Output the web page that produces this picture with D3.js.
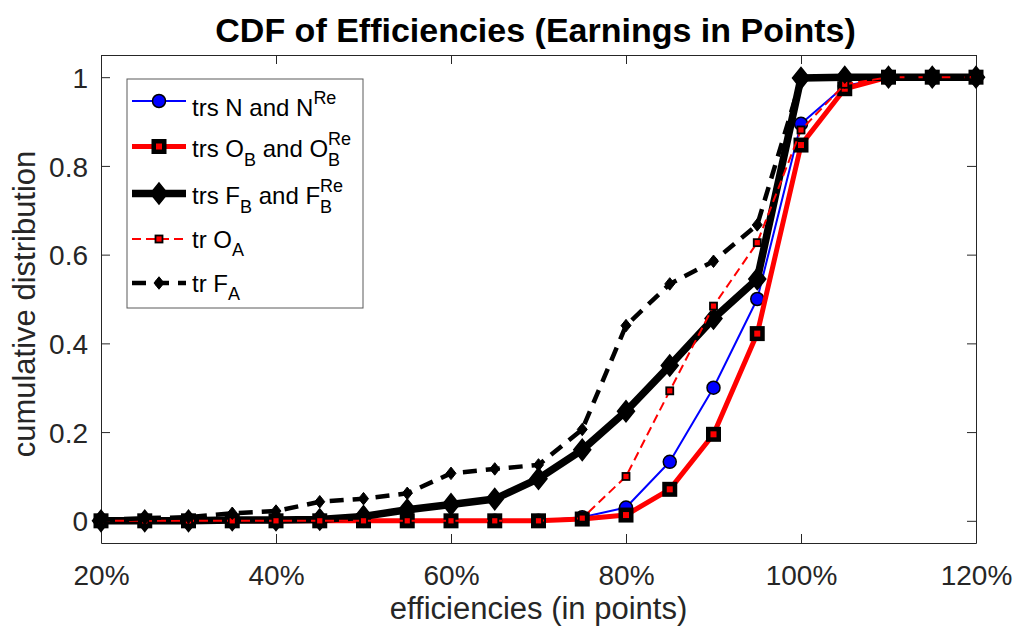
<!DOCTYPE html>
<html>
<head>
<meta charset="utf-8">
<script src="https://cdn.jsdelivr.net/npm/d3@7"></script>
<style>
  body { margin: 0; background: #fff; }
</style>
</head>
<body>
<div id="chart"></div>
<script>
// efficiency bins (percent of points)
const efficiencies = [20, 25, 30, 35, 40, 45, 50, 55, 60, 65, 70, 75, 80, 85, 90, 95, 100, 105, 110, 115, 120];

// cumulative distributions
const cdfN  = [0, 0, 0, 0, 0, 0, 0, 0, 0, 0, 0, 0.008, 0.03, 0.133, 0.30, 0.50, 0.895, 0.98, 1, 1, 1];
const cdfOB = [0, 0, 0, 0, 0, 0, 0, 0, 0, 0, 0, 0.004, 0.013, 0.071, 0.195, 0.422, 0.847, 0.974, 1, 1, 1];
const cdfFB = [0, 0, 0, 0.002, 0.002, 0.003, 0.01, 0.025, 0.037, 0.049, 0.095, 0.16, 0.247, 0.35, 0.456, 0.545, 0.998, 1, 1, 1, 1];
const cdfOA = [0, 0, 0, 0, 0, 0, 0, 0, 0, 0, 0, 0.006, 0.10, 0.293, 0.484, 0.627, 0.881, 0.984, 1, 1, 1];
const cdfFA = [0.002, 0.006, 0.008, 0.017, 0.022, 0.043, 0.05, 0.062, 0.107, 0.117, 0.126, 0.206, 0.44, 0.534, 0.585, 0.667, 0.995, 1, 1, 1, 1];

const legendLabels = ['trs N and N^{Re}', 'trs O_B and O_B^{Re}', 'trs F_B and F_B^{Re}', 'tr O_A', 'tr F_A'];

const xTicks = [20, 40, 60, 80, 100, 120];
const yTicks = [0, 0.2, 0.4, 0.6, 0.8, 1];

const titleText = 'CDF of Efficiencies (Earnings in Points)';
const xLabel = 'efficiencies (in points)';
const yLabel = 'cumulative distribution';

// line + marker styles, in drawing order
const styles = [
  { stroke: '#0000ff', width: 2,   dash: null,    marker: 'circle',  size: 6.5,  face: '#0000ff', edgeW: 1.5 },
  { stroke: '#ff0000', width: 5,   dash: null,    marker: 'square',  size: 10.5, face: '#ff0000', edgeW: 4.5 },
  { stroke: '#000000', width: 7.5, dash: null,    marker: 'diamond', size: 8.5,  face: '#000000', edgeW: 1.5 },
  { stroke: '#ff0000', width: 2,   dash: '9,5',   marker: 'square',  size: 7,    face: '#ff0000', edgeW: 1.8 },
  { stroke: '#000000', width: 4.5, dash: '14,9',  marker: 'diamond', size: 5,    face: '#000000', edgeW: 1 }
];
const seriesValues = [cdfN, cdfOB, cdfFB, cdfOA, cdfFA];

const font = "'Liberation Sans', Arial, Helvetica, sans-serif";
const W = 1019, H = 641;
const box = { left: 101, right: 976, top: 55, bottom: 543 };
const axisColor = '#262626';

const svg = d3.select('#chart').append('svg')
  .attr('width', W).attr('height', H)
  .style('font-family', font)
  .style('display', 'block');

svg.append('rect').attr('width', W).attr('height', H).attr('fill', '#fff');

const x = d3.scaleLinear().domain([20, 120]).range([box.left, box.right]);
const y = d3.scaleLinear().domain([-0.05, 1.05]).range([box.bottom, box.top]);

// --- axes (box on, ticks pointing inward) ---
function styleAxis(g) {
  g.select('.domain').attr('stroke', axisColor).attr('stroke-width', 1);
  g.selectAll('.tick line').attr('stroke', axisColor).attr('stroke-width', 1);
  g.selectAll('.tick text').attr('fill', axisColor).attr('font-size', '28px').attr('font-family', font);
}

svg.append('g')
  .attr('transform', `translate(0,${box.bottom})`)
  .call(d3.axisBottom(x).tickValues(xTicks).tickSizeInner(-9).tickSizeOuter(0)
    .tickPadding(22).tickFormat(d => d + '%'))
  .call(styleAxis);

svg.append('g')
  .attr('transform', `translate(0,${box.top})`)
  .call(d3.axisTop(x).tickValues(xTicks).tickSizeInner(-9).tickSizeOuter(0).tickFormat(''))
  .call(styleAxis);

svg.append('g')
  .attr('transform', `translate(${box.left},0)`)
  .call(d3.axisLeft(y).tickValues(yTicks).tickSizeInner(-9).tickSizeOuter(0)
    .tickPadding(13).tickFormat(d => String(+d.toFixed(1))))
  .call(styleAxis)
  .selectAll('.tick text').attr('dy', '0.36em');

svg.append('g')
  .attr('transform', `translate(${box.right},0)`)
  .call(d3.axisRight(y).tickValues(yTicks).tickSizeInner(-9).tickSizeOuter(0).tickFormat(''))
  .call(styleAxis);

// --- titles ---
svg.append('text')
  .attr('x', (box.left + box.right) / 2 - 3).attr('y', 42)
  .attr('text-anchor', 'middle')
  .attr('font-size', '34px').attr('font-weight', 'bold').attr('fill', '#000')
  .text(titleText);

svg.append('text')
  .attr('x', (box.left + box.right) / 2).attr('y', 619)
  .attr('text-anchor', 'middle')
  .attr('font-size', '31px').attr('fill', axisColor)
  .text(xLabel);

svg.append('text')
  .attr('transform', `translate(35,${(box.top + box.bottom) / 2 + 5}) rotate(-90)`)
  .attr('text-anchor', 'middle')
  .attr('font-size', '31px').attr('fill', axisColor)
  .text(yLabel);

// --- markers ---
function drawMarker(g, s, cx, cy) {
  if (s.marker === 'circle') {
    g.append('circle').attr('cx', cx).attr('cy', cy).attr('r', s.size)
      .attr('fill', s.face).attr('stroke', '#000').attr('stroke-width', s.edgeW);
  } else if (s.marker === 'square') {
    g.append('rect').attr('x', cx - s.size / 2).attr('y', cy - s.size / 2)
      .attr('width', s.size).attr('height', s.size)
      .attr('fill', s.face).attr('stroke', '#000').attr('stroke-width', s.edgeW);
  } else {
    const hw = s.size, hh = s.size * 1.25;
    g.append('path')
      .attr('d', `M${cx},${cy - hh}L${cx + hw},${cy}L${cx},${cy + hh}L${cx - hw},${cy}Z`)
      .attr('fill', s.face).attr('stroke', '#000').attr('stroke-width', s.edgeW);
  }
}

// --- series ---
const line = d3.line().x(d => x(d[0])).y(d => y(d[1]));

seriesValues.forEach((vals, i) => {
  const s = styles[i];
  const pts = efficiencies.map((e, j) => [e, vals[j]]);
  const g = svg.append('g');
  g.append('path')
    .attr('d', line(pts))
    .attr('fill', 'none')
    .attr('stroke', s.stroke)
    .attr('stroke-width', s.width)
    .attr('stroke-dasharray', s.dash)
    .attr('stroke-linejoin', 'round');
  pts.forEach(p => drawMarker(g, s, x(p[0]), y(p[1])));
});

// --- legend ---
function parseTex(str) {
  // returns chunks: {text} or {sub, sup}
  const out = [];
  let buf = '';
  let i = 0;
  const readArg = () => {
    if (str[i] === '{') {
      const j = str.indexOf('}', i);
      const a = str.slice(i + 1, j);
      i = j + 1;
      return a;
    }
    return str[i++];
  };
  while (i < str.length) {
    const c = str[i];
    if (c === '_' || c === '^') {
      if (buf) { out.push({ text: buf }); buf = ''; }
      const grp = {};
      while (str[i] === '_' || str[i] === '^') {
        const k = str[i] === '_' ? 'sub' : 'sup';
        i++;
        grp[k] = readArg();
      }
      out.push(grp);
    } else {
      buf += c;
      i++;
    }
  }
  if (buf) out.push({ text: buf });
  return out;
}

const legend = svg.append('g');
const legTop = 79, legLeft = 127, legWidth = 236;
const rowHeights = legendLabels.map(l => {
  const hasSub = l.includes('_'), hasSup = l.includes('^');
  return hasSub && hasSup ? 47 : 44;
});
const legHeight = d3.sum(rowHeights) + 3;

legend.append('rect')
  .attr('x', legLeft).attr('y', legTop)
  .attr('width', legWidth).attr('height', legHeight)
  .attr('fill', '#fff').attr('stroke', '#5a5a5a').attr('stroke-width', 1);

let rowTop = legTop;
legendLabels.forEach((label, i) => {
  const s = styles[i];
  const cy = rowTop + rowHeights[i] / 2;
  rowTop += rowHeights[i];
  const x0 = legLeft + 5, x1 = legLeft + 59, xm = legLeft + 32;
  const g = legend.append('g');
  g.append('line')
    .attr('x1', x0).attr('x2', x1).attr('y1', cy).attr('y2', cy)
    .attr('stroke', s.stroke).attr('stroke-width', s.width)
    .attr('stroke-dasharray', s.dash);
  drawMarker(g, s, xm, cy);

  const hasSub = label.includes('_'), hasSup = label.includes('^');
  const base = cy + (hasSup && !hasSub ? 15 : hasSup ? 10.5 : 8.7);
  let tx = legLeft + 65;
  parseTex(label).forEach(ch => {
    if (ch.text !== undefined) {
      const t = g.append('text').attr('x', tx).attr('y', base)
        .attr('font-size', '24px').attr('fill', '#000')
        .style('white-space', 'pre').attr('xml:space', 'preserve')
        .text(ch.text);
      tx += t.node().getComputedTextLength();
    } else {
      let w = 0;
      if (ch.sub) {
        const t = g.append('text').attr('x', tx).attr('y', base + 8.5)
          .attr('font-size', '18px').attr('fill', '#000').text(ch.sub);
        w = Math.max(w, t.node().getComputedTextLength());
      }
      if (ch.sup) {
        const t = g.append('text').attr('x', tx).attr('y', base - 12)
          .attr('font-size', '18px').attr('fill', '#000').text(ch.sup);
        w = Math.max(w, t.node().getComputedTextLength());
      }
      tx += w;
    }
  });
});
</script>
</body>
</html>
